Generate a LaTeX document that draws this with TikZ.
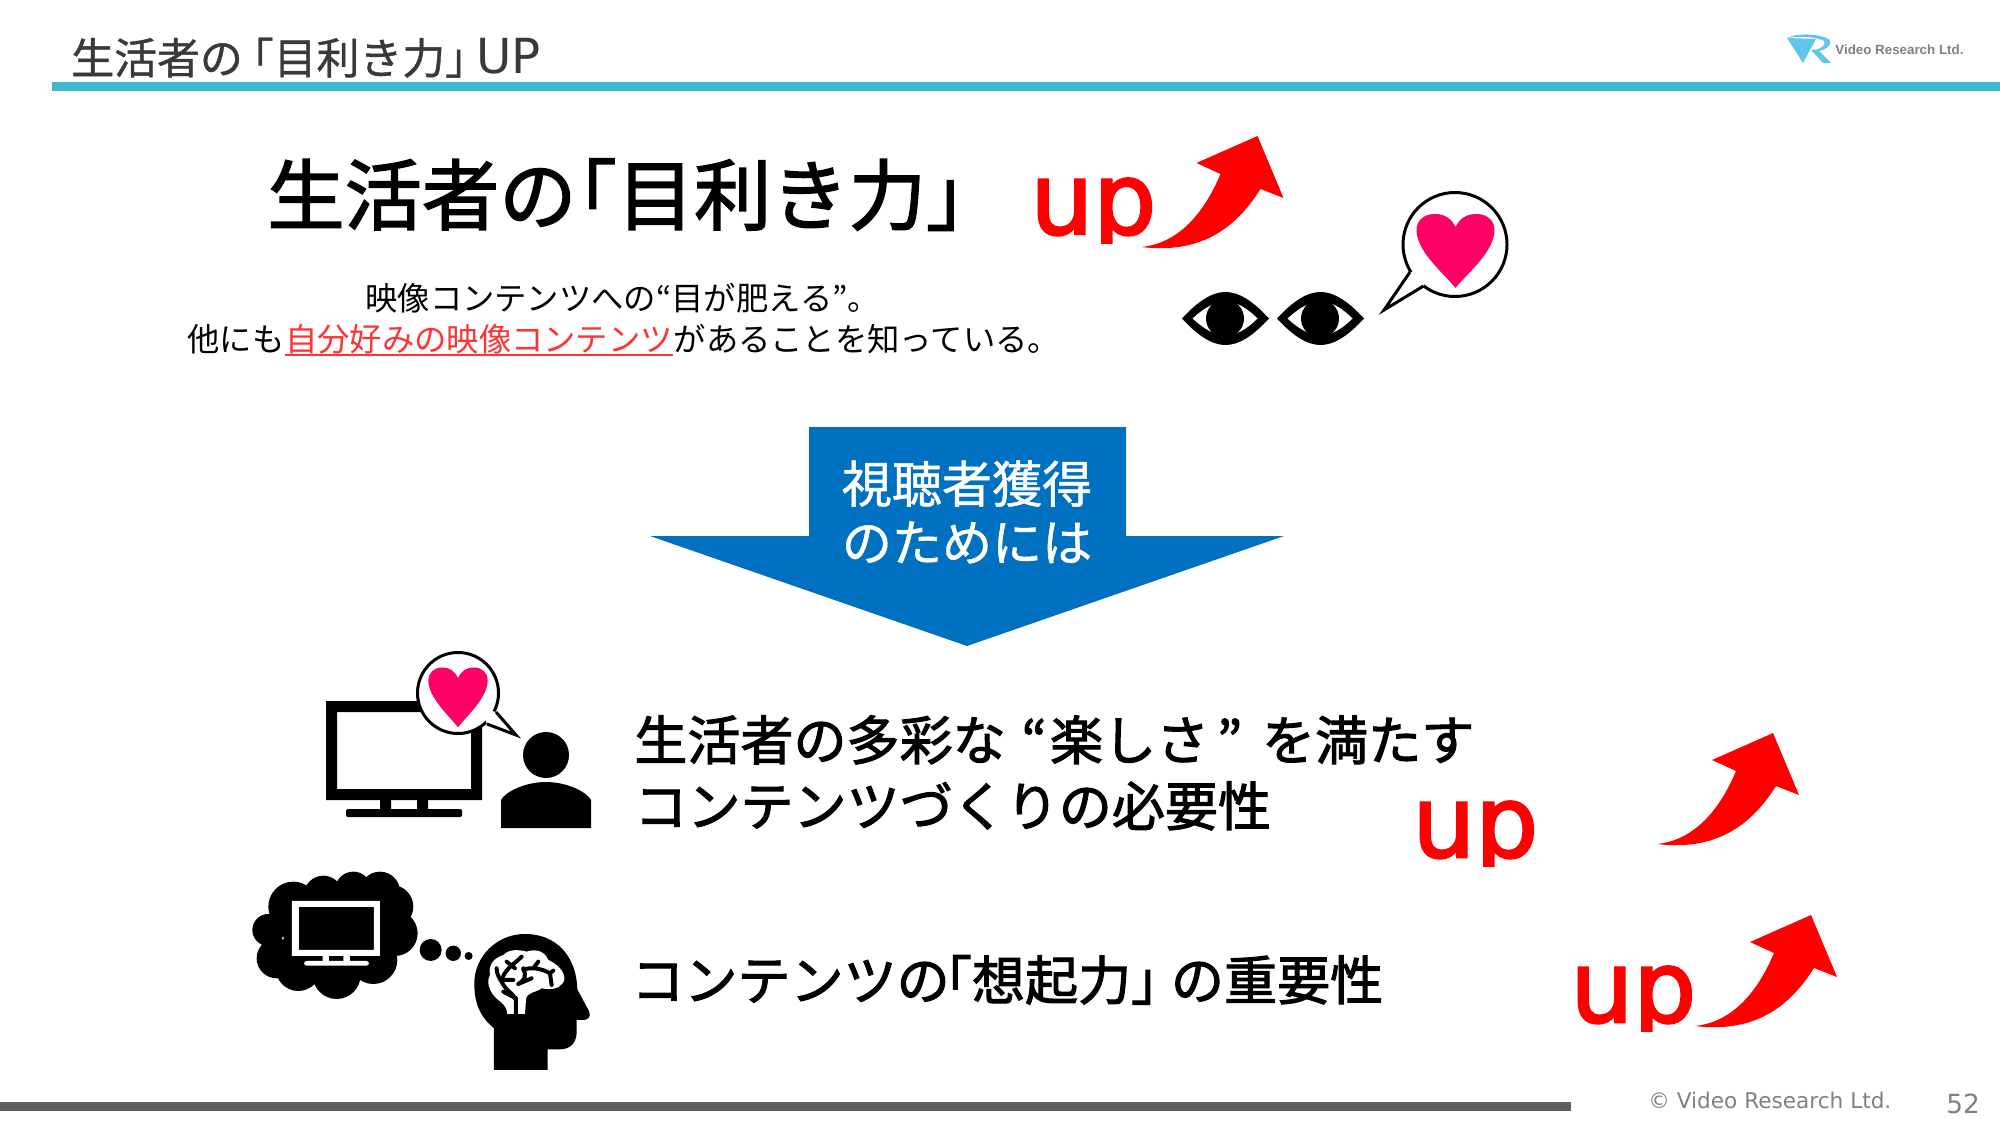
\documentclass[tikz,border=0pt]{standalone}
\usepackage{fontspec}
\setmainfont{Noto Sans CJK JP}
\newfontfamily\jpheavy[FakeBold=2]{Noto Sans CJK JP}
\newfontfamily\jpsemi[FakeBold=1]{Noto Sans CJK JP}
\newfontfamily\latinfont{DejaVu Sans}
\newfontfamily\upfont[FakeBold=2.5]{DejaVu Sans}
\newfontfamily\logofont{Liberation Sans}
\newcommand{\brl}[1][.46]{\kern-#1em「}
\newcommand{\brr}[1][.46]{」\kern-#1em}
\definecolor{headteal}{HTML}{3FB9D0}
\definecolor{headdark}{HTML}{3B3838}
\definecolor{footgray}{HTML}{5F5F5F}
\definecolor{textgray}{HTML}{808080}
\definecolor{heartpink}{HTML}{FF0066}
\definecolor{arrowblue}{HTML}{0070C0}
\definecolor{logoblue}{HTML}{62C4EC}
\definecolor{subred}{HTML}{FF3333}
\tikzset{
  jptext/.style={inner sep=0pt, anchor=base west},
  uptext/.style={inner sep=0pt, anchor=base west, text=red, font=\upfont\fontsize{56.5}{60}\selectfont},
  pics/uparrow/.style={code={
    \fill[red] (0,0) .. controls (38,-4) and (63,-35) .. (79,-73) -- (55,-84) -- (116,-111)
      -- (142,-49) -- (119,-58) .. controls (98,-25) and (65,8) .. (0,0) -- cycle;
  }},
  pics/heart/.style={code={
    \fill[heartpink] (0,61) .. controls (-10,48) and (-39,25) .. (-39,3)
      .. controls (-39,-6) and (-32,-13) .. (-21,-13) .. controls (-10,-13) and (-4,-8) .. (0,0)
      .. controls (4,-8) and (10,-13) .. (21,-13) .. controls (32,-13) and (39,-6) .. (39,3)
      .. controls (39,25) and (10,48) .. (0,61) -- cycle;
  }},
  pics/eye/.style={code={
    \fill (-43.5,0) .. controls (-27,-18) and (-13,-26.5) .. (0,-26.5) .. controls (13,-26.5) and (27,-18) .. (43.5,0)
      .. controls (27,18) and (13,26.5) .. (0,26.5) .. controls (-13,26.5) and (-27,18) .. (-43.5,0) -- cycle;
    \fill[white] (-33,0) .. controls (-22,-10) and (-11,-17) .. (0,-17) .. controls (11,-17) and (22,-10) .. (32,0)
      .. controls (22,10) and (11,17) .. (0,17) .. controls (-11,17) and (-22,10) .. (-33,0) -- cycle;
    \fill (-0.5,0) circle (19);
  }}
}
\begin{document}
\begin{tikzpicture}[x=0.02cm,y=-0.02cm]
  \useasboundingbox (0,0) rectangle (2000,1125);

  %% Header
  \node[jptext, text=headdark, font=\jpsemi\fontsize{24.4}{28}\selectfont] (headtitle) at (71,74) {生活者の\brl[.28]目利き力\brr[.28]{\latinfont\fontsize{27.5}{28}\selectfont UP}};
  \fill[headteal] (52,82) rectangle (2000,91);

  % Logo
  \fill[logoblue] (1787,38) -- (1816,39) -- (1803,63) -- cycle;
  \fill[logoblue] (1787,38) .. controls (1795,33) and (1820,33) .. (1830,40) .. controls (1832,46) and (1825,50) .. (1819,51)
    -- (1831,63) -- (1823,63) -- (1811,50) .. controls (1820,50) and (1827,45) .. (1824,41) .. controls (1815,36) and (1795,36) .. (1787,38) -- cycle;
  \node[jptext, text=textgray, font=\logofont\bfseries\fontsize{7.6}{10}\selectfont] (logotext) at (1835,55) {Video Research Ltd.};

  %% Top message
  \node[jptext, font=\jpheavy\fontsize{44}{50}\selectfont] (bigtitle) at (267,224) {生活者の\brl[.48]目利き力\brr};
  \node[jptext, font=\fontsize{18.4}{22}\selectfont] (subone) at (365,310) {映像コンテンツへの“目が肥える”。};
  \node[jptext, font=\fontsize{18.4}{22}\selectfont] (subtwoa) at (187,351) {他にも};
  \node[jptext, text=subred, font=\fontsize{18.4}{22}\selectfont] (subtwob) at (subtwoa.base east) {自分好みの映像コンテンツ};
  \node[jptext, font=\fontsize{18.4}{22}\selectfont] (subtwoc) at (subtwob.base east) {があることを知っている。};
  \draw[subred, line width=1pt] ([yshift=-2.4pt]subtwob.base west) -- ([yshift=-2.4pt]subtwob.base east);

  %% Blue arrow
  \fill[arrowblue] (809,427) -- (1126,427) -- (1126,536) -- (1284,536) -- (967,646) -- (650,536) -- (809,536) -- cycle;
  \node[text=white, inner sep=0pt, align=center, font=\jpsemi\fontsize{28.5}{33.4}\selectfont] (arrowtext) at (967,512) {視聴者獲得\\のためには};

  %% Lower messages
  \node[jptext, font=\jpheavy\fontsize{30.2}{34}\selectfont] (fun) at (634,760) {生活者の多彩な\kern.3em“\kern.06em 楽しさ\kern.15em” \kern.15em を満たす};
  \node[jptext, font=\jpheavy\fontsize{30.2}{34}\selectfont] (need) at (634,826) {コンテンツづくりの必要性};
  \node[jptext, font=\jpheavy\fontsize{30.2}{34}\selectfont] (recall) at (631,1000) {コンテンツの\brl[.58]想起力\brr[.25]の重要性};

  %% up labels and arrows
  \foreach \ux/\uy/\uname in {1030/234/upa, 1412/857/upb, 1570/1022/upc}{
    \begin{scope}
      \clip (\ux,\uy-80) rectangle (\ux+140,\uy+9);
      \node[uptext] (\uname) at (\ux,\uy) {up};
    \end{scope}
  }
  \pic (arrowa) at (1141.5,247) {uparrow};
  \pic (arrowb) at (1657,844) {uparrow};
  \pic (arrowc) at (1695,1026) {uparrow};

  %% Eyes and bubble
  \pic (eyea) at (1225.5,318.5) {eye};
  \pic (eyeb) at (1320.5,318.5) {eye};
  \draw[fill=white, line width=3pt*0.5669] (1455,244.5) circle (52);
  \fill[white] (1410,272) -- (1380,312) -- (1423.5,286) -- (1430,270) -- cycle;
  \draw[line width=3pt*0.5669, line join=miter] (1410,272) -- (1384,310) -- (1423.5,286);
  \pic at (1455.5,227) {heart};

  %% TV and person
  \fill[even odd rule] (326,701) rectangle (482,800) (337,712) rectangle (471,789);
  \fill (380,800) rectangle (391,809) (417,800) rectangle (428,809);
  \fill[rounded corners=1.5pt*0.5669] (346,809) rectangle (462,817);
  \draw[fill=white, line width=3pt*0.5669] (458,693) circle (40.5);
  \fill[white] (496,712) -- (519,737) -- (487,724) -- (480,708) -- cycle;
  \draw[line width=3pt*0.5669] (496,712) -- (516,735) -- (487,724);
  \pic[xscale=0.76,yscale=0.81] at (458,678) {heart};
  \fill (546,755) circle (23);
  \fill (501,828) -- (501,800) .. controls (505,792) and (525,782) .. (546,782)
    .. controls (567,782) and (587,792) .. (591,800) -- (591,828) -- cycle;

  %% Cloud, thought dots and head, in crop coordinates
  \begin{scope}[shift={(240,640)},scale=0.3333]
    \fill (85,870) circle (48) (110,955) circle (60) (175,985) circle (68) (290,1005) circle (72)
      (400,960) circle (72) (465,880) circle (68) (455,800) circle (65) (420,755) circle (60)
      (340,750) circle (55) (250,765) circle (58) (160,800) circle (75) (280,880) circle (150);
    \fill[white, even odd rule] (156,783) rectangle (420,948) (177,801) rectangle (402,930);
    \fill[white] (248,948) rectangle (267,964) (310,948) rectangle (330,964);
    \fill[white, rounded corners=1.5pt] (192,963) rectangle (387,977);
    \fill (572,930) circle (33) (640,940) circle (23) (686,948) circle (12);

    % Head
    \fill (762,1290) -- (762,1165) .. controls (720,1130) and (703,1090) .. (703,1030)
      .. controls (703,950) and (770,882) .. (855,882) .. controls (950,882) and (1010,950) .. (1012,1048)
      -- (1048,1115) .. controls (1053,1130) and (1045,1140) .. (1030,1140) -- (1010,1140)
      -- (1010,1180) .. controls (1008,1210) and (990,1228) .. (960,1228) -- (923,1228) -- (923,1290) -- cycle;
    \fill[white] (802,1122) .. controls (800,1090) and (775,1085) .. (760,1065) .. controls (745,1045) and (740,1025) .. (750,1005)
      .. controls (745,975) and (760,955) .. (790,945) .. controls (810,925) and (840,930) .. (860,935)
      .. controls (890,925) and (915,935) .. (925,960) .. controls (960,975) and (985,1010) .. (968,1030)
      .. controls (955,1048) and (930,1050) .. (905,1045) .. controls (885,1060) and (860,1055) .. (858,1080) -- (855,1122) -- cycle;
    \draw[line width=4pt*0.5669, line cap=round] (828,1122) -- (828,1080) .. controls (820,1060) and (795,1050) .. (785,1025) .. controls (775,1010) and (770,1000) .. (770,985);
    \draw[line width=4pt*0.5669, line cap=round] (785,1025) .. controls (790,990) and (820,975) .. (845,950);
    \draw[line width=4pt*0.5669, line cap=round] (800,965) -- (825,985) (850,990) .. controls (870,980) and (905,985) .. (930,1000) (895,965) -- (880,985) (930,1000) -- (935,1035) (930,1000) -- (940,992);
    \draw[line width=4pt*0.5669, line cap=round] (790,1020) -- (820,1020) (850,985) .. controls (860,1010) and (855,1020) .. (835,1032) (828,1075) -- (790,1055) (835,1032) -- (875,1015);
  \end{scope}

  %% Footer
  \fill[footgray] (0,1102) rectangle (1571,1111);
  \node[jptext, text=textgray, font=\latinfont\fontsize{12.3}{16}\selectfont] (copyright) at (1648,1108) {© Video Research Ltd.};
  \node[jptext, text=textgray, font=\latinfont\fontsize{15}{18}\selectfont] (pagenum) at (1946,1113) {52};
\end{tikzpicture}
\end{document}
